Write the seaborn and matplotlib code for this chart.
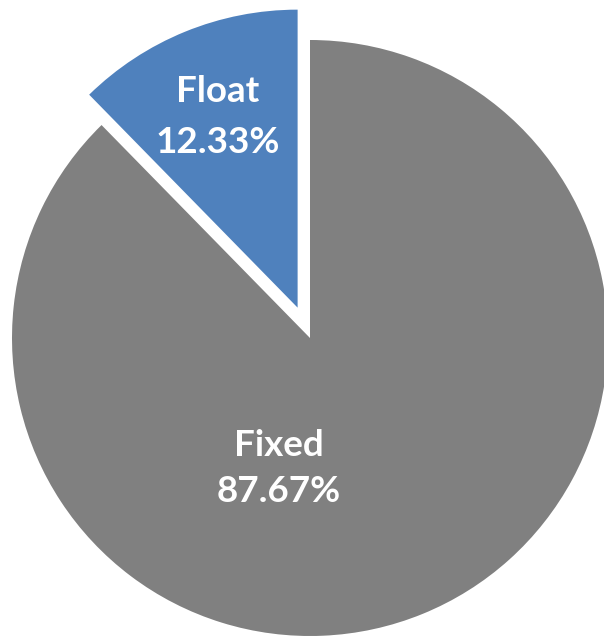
import matplotlib
matplotlib.use("Agg")
import matplotlib.pyplot as plt
import seaborn as sns

# Rate type split
categories = ["Fixed", "Float"]
shares = [87.67, 12.33]
colors = ["#808080", "#4F81BD"]

sns.set_style("white")
plt.rcParams["font.family"] = ["Lato", "DejaVu Sans"]

W, H, DPI = 604, 637, 100
fig = plt.figure(figsize=(W / DPI, H / DPI), dpi=DPI)
ax = fig.add_axes([0, 0, 1, 1])

R_PX = 298.0          # pie radius in pixels
CX, CY = 310.0, 338.0  # pie centre in pixels

wedges, _ = ax.pie(
    shares,
    colors=colors,
    startangle=90,
    counterclock=False,
    explode=[0.0, 0.11],
    radius=1.0,
    wedgeprops=dict(linewidth=0),
)

# Data limits chosen so one data unit equals R_PX pixels
ax.set_xlim(-CX / R_PX, (W - CX) / R_PX)
ax.set_ylim((CY - H) / R_PX, CY / R_PX)
ax.set_aspect("auto")
ax.axis("off")


def to_data(px, py):
    return (px - CX) / R_PX, (CY - py) / R_PX


# label anchors (pixel space): name baseline, value baseline
label_pos = {
    "Float": (218, 102, 153),
    "Fixed": (279, 456, 502),
}
for name, val in zip(categories, shares):
    px, by1, by2 = label_pos[name]
    x1, y1 = to_data(px, by1)
    x2, y2 = to_data(px, by2)
    style = dict(ha="center", va="baseline", color="white",
                 fontsize=26.5, fontweight="bold")
    ax.text(x1, y1, name, **style)
    ax.text(x2, y2, f"{val:.2f}%", **style)

fig.savefig("out.png", dpi=DPI, facecolor="white")
